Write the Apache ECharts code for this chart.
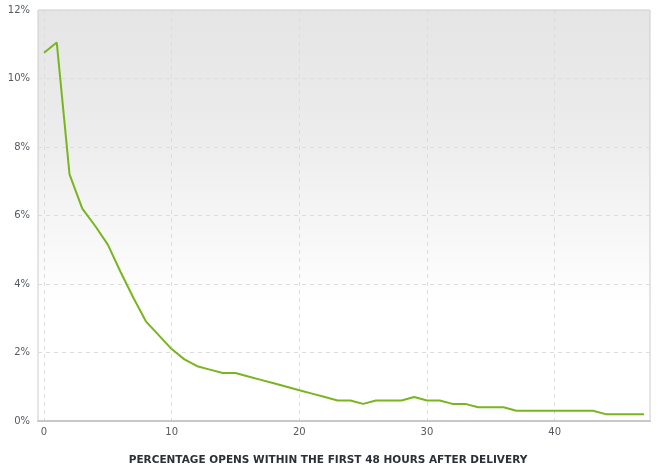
<!DOCTYPE html>
<html>
<head>
<meta charset="utf-8">
<script src="https://cdn.jsdelivr.net/npm/echarts@6/dist/echarts.min.js"></script>
<style>
	html, body { margin: 0; padding: 0; background: #fff; }
	#chart { width: 663px; height: 469px; }
</style>
</head>
<body>
<div id="chart"></div>
<script>
// hours after delivery
var hours = [0, 1, 2, 3, 4, 5, 6, 7, 8, 9, 10, 11, 12, 13, 14, 15, 16, 17, 18, 19, 20, 21, 22, 23,
	24, 25, 26, 27, 28, 29, 30, 31, 32, 33, 34, 35, 36, 37, 38, 39, 40, 41, 42, 43, 44, 45, 46, 47];
// percentage of opens per hour
var opens = [10.75, 11.05, 7.2, 6.2, 5.7, 5.15, 4.35, 3.6, 2.9, 2.5, 2.1, 1.8, 1.6, 1.5, 1.4, 1.4,
	1.3, 1.2, 1.1, 1.0, 0.9, 0.8, 0.7, 0.6, 0.6, 0.5, 0.6, 0.6, 0.6, 0.7, 0.6, 0.6,
	0.5, 0.5, 0.4, 0.4, 0.4, 0.3, 0.3, 0.3, 0.3, 0.3, 0.3, 0.3, 0.2, 0.2, 0.2, 0.2];
var xTitle = 'PERCENTAGE OPENS WITHIN THE FIRST 48 HOURS AFTER DELIVERY';

var chart = echarts.init(document.getElementById('chart'));
var labelFont = { color: '#555a60', fontSize: 10, fontFamily: 'DejaVu Sans' };

var option = {
	animation: false,
	grid: [
		// outer box with the gradient
		{
			left: 38, right: 13, top: 10, bottom: 48,
			outerBoundsMode: 'none',
			containLabel: false,
			show: true,
			borderColor: '#cccccc',
			borderWidth: 1,
			backgroundColor: new echarts.graphic.LinearGradient(0, 0, 0, 1, [
				{ offset: 0, color: '#e5e5e5' },
				{ offset: 0.3, color: '#ececec' },
				{ offset: 0.72, color: '#ffffff' },
				{ offset: 1, color: '#ffffff' }
			])
		},
		// data area
		{ left: 44, right: 19, top: 10, bottom: 48, outerBoundsMode: 'none', containLabel: false }
	],
	graphic: [
		{
			type: 'text',
			x: 328,
			y: 460,
			style: {
				text: xTitle,
				fill: '#2b2f36',
				font: 'bold 10.5px "DejaVu Sans"',
				align: 'center',
				verticalAlign: 'middle'
			}
		}
	],
	xAxis: [
		{
			gridIndex: 0, type: 'value', min: 0, max: 1,
			axisLine: { show: true, lineStyle: { color: '#c8c8c8', width: 2 } },
			axisTick: { show: false },
			axisLabel: { show: false },
			splitLine: { show: false }
		},
		{
			gridIndex: 1, type: 'value', min: 0, max: 47, interval: 10,
			axisLine: { show: false },
			axisTick: { show: false },
			axisLabel: Object.assign({ margin: 6, showMaxLabel: false }, labelFont),
			splitLine: { show: true, showMaxLine: false, lineStyle: { color: '#dcdcdc', type: [4, 4] } }
		}
	],
	yAxis: [
		{
			gridIndex: 0, type: 'value', min: 0, max: 12, interval: 2,
			axisLine: { show: false },
			axisTick: { show: false },
			axisLabel: Object.assign({ margin: 8, formatter: '{value}%' }, labelFont),
			splitLine: { show: true, lineStyle: { color: '#dcdcdc', type: [4, 4] } }
		},
		{
			gridIndex: 1, type: 'value', min: 0, max: 12, show: false,
			splitLine: { show: false }
		}
	],
	series: [
		{
			type: 'line',
			xAxisIndex: 1,
			yAxisIndex: 1,
			data: hours.map(function (h, i) { return [h, opens[i]]; }),
			symbol: 'none',
			lineStyle: { color: '#78b51f', width: 2 }
		}
	]
};
chart.setOption(option);
window.addEventListener('resize', function () { chart.resize(); });
</script>
</body>
</html>
